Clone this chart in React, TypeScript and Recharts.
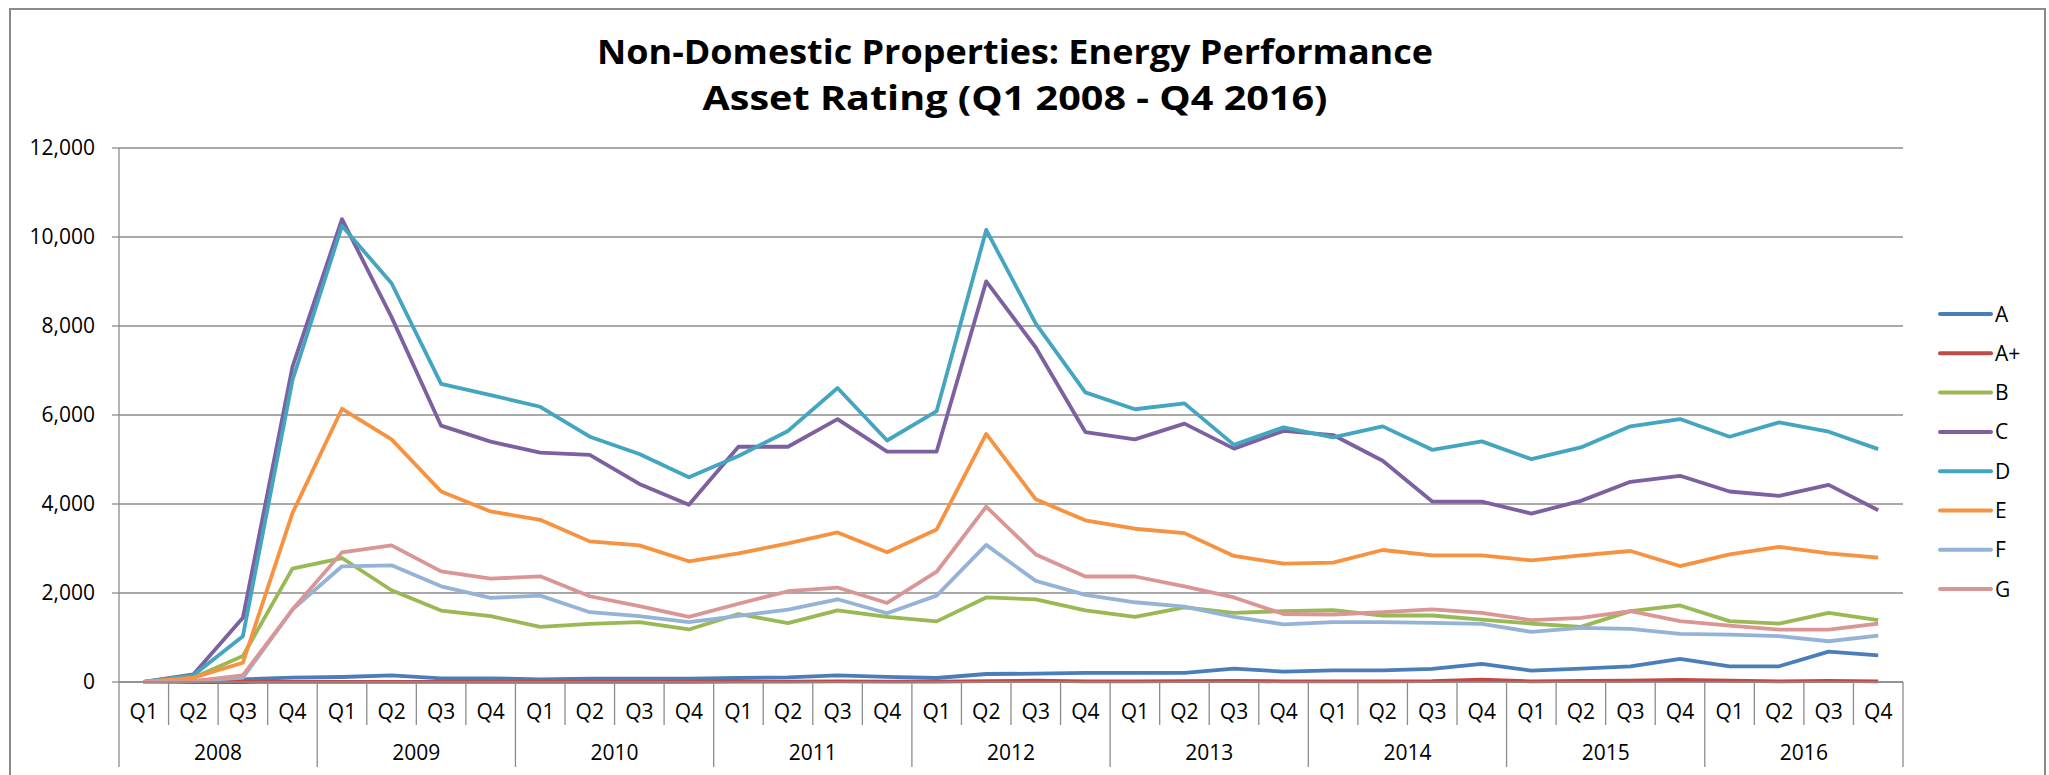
import React from 'react';
import { LineChart, Line, XAxis, YAxis, CartesianGrid } from 'recharts';

const years = ['2008', '2009', '2010', '2011', '2012', '2013', '2014', '2015', '2016'];
const quarters = ['Q1', 'Q2', 'Q3', 'Q4'];

const seriesA = [0, 22, 60, 97, 112, 150, 82, 82, 60, 75, 75, 75, 90, 105, 150, 113, 90, 180, 188, 203, 203, 203, 300, 233, 263, 263, 293, 405, 255, 300, 353, 518, 353, 353, 683, 600];
const seriesAPlus = [0, 0, 0, 5, 5, 5, 5, 5, 5, 5, 5, 5, 10, 10, 15, 10, 10, 20, 30, 15, 15, 20, 25, 15, 15, 15, 20, 55, 15, 25, 30, 50, 30, 15, 25, 15];
const seriesB = [0, 97, 583, 2547, 2786, 2062, 1606, 1479, 1240, 1307, 1345, 1180, 1528, 1322, 1611, 1462, 1363, 1900, 1859, 1611, 1462, 1677, 1553, 1594, 1615, 1494, 1494, 1404, 1314, 1239, 1592, 1720, 1367, 1314, 1555, 1389];
const seriesC = [0, 170, 1442, 7080, 10400, 8200, 5760, 5401, 5154, 5102, 4452, 3982, 5286, 5286, 5906, 5179, 5179, 9003, 7517, 5617, 5452, 5807, 5245, 5642, 5550, 4972, 4055, 4055, 3785, 4070, 4498, 4634, 4281, 4183, 4431, 3860];
const seriesD = [0, 150, 1030, 6780, 10250, 8960, 6700, 6447, 6185, 5513, 5124, 4602, 5080, 5642, 6608, 5427, 6088, 10160, 8053, 6509, 6129, 6261, 5328, 5724, 5497, 5745, 5219, 5407, 5009, 5272, 5745, 5910, 5512, 5835, 5625, 5234];
const seriesE = [0, 97, 433, 3795, 6140, 5453, 4280, 3832, 3645, 3160, 3070, 2712, 2891, 3114, 3362, 2916, 3428, 5576, 4105, 3634, 3444, 3345, 2833, 2660, 2681, 2966, 2846, 2846, 2734, 2846, 2944, 2606, 2869, 3034, 2891, 2794];
const seriesF = [0, 22, 97, 1628, 2600, 2622, 2151, 1890, 1942, 1569, 1479, 1345, 1487, 1627, 1859, 1545, 1941, 3081, 2272, 1958, 1792, 1693, 1462, 1297, 1344, 1344, 1329, 1307, 1126, 1217, 1194, 1081, 1066, 1029, 916, 1044];
const seriesG = [0, 22, 150, 1628, 2913, 3070, 2487, 2323, 2375, 1927, 1703, 1464, 1759, 2040, 2123, 1776, 2478, 3940, 2866, 2371, 2371, 2148, 1900, 1528, 1517, 1570, 1630, 1555, 1389, 1442, 1592, 1367, 1269, 1179, 1179, 1314];

const seriesNames = ['A', 'A+', 'B', 'C', 'D', 'E', 'F', 'G'];
const seriesValues = [seriesA, seriesAPlus, seriesB, seriesC, seriesD, seriesE, seriesF, seriesG];
const seriesColors = ['#4A7EBB', '#BE4B48', '#98B954', '#7D60A0', '#43A5BF', '#F69240', '#95B3D7', '#D99694'];
const yTicks = [0, 2000, 4000, 6000, 8000, 10000, 12000];
const titleLines = ['Non-Domestic Properties: Energy Performance', 'Asset Rating (Q1 2008 - Q4 2016)'];

const data = years.flatMap((y, yi) =>
  quarters.map((q, qi) => {
    const i = yi * 4 + qi;
    const row: Record<string, string | number> = { key: `${y} ${q}`, year: y, q };
    seriesNames.forEach((n, si) => {
      row[n] = seriesValues[si][i];
    });
    return row;
  })
);

const W = 2049;
const H = 775;
const PLOT_LEFT = 119;
const PLOT_RIGHT = 1903;
const PLOT_TOP = 148;
const PLOT_BOTTOM = 682;
const BAND = (PLOT_RIGHT - PLOT_LEFT) / data.length;
const FONT = '"Open Sans", Lato, sans-serif';
const GRID = '#8C8C8C';
const AXIS_FS = 21;

const titleLayout = [
  { y: 64, width: 836 },
  { y: 110, width: 625 },
];

const XTick = (props: any) => {
  const { x, y, payload } = props;
  const idx: number = payload.index;
  const row = data[idx];
  if (!row) return null;
  const qi = idx % 4;
  const left = x - BAND / 2;
  const right = x + BAND / 2;
  return (
    <g>
      <line x1={left} x2={left} y1={y} y2={qi === 0 ? y + 85 : y + 43} stroke={GRID} strokeWidth={1.3} />
      {idx === data.length - 1 && (
        <line x1={right} x2={right} y1={y} y2={y + 85} stroke={GRID} strokeWidth={1.3} />
      )}
      <text x={x} y={y + 37} textAnchor="middle" fontSize={AXIS_FS} fontFamily={FONT} fill="#000">
        {row.q as string}
      </text>
      {qi === 0 && (
        <text x={x + BAND * 1.5} y={y + 78} textAnchor="middle" fontSize={AXIS_FS} fontFamily={FONT} fill="#000">
          {row.year as string}
        </text>
      )}
    </g>
  );
};

export default function App() {
  return (
    <div
      style={{
        position: 'fixed',
        left: 0,
        top: 0,
        width: W,
        height: H,
        overflow: 'hidden',
        background: '#fff',
        fontFamily: FONT,
      }}
    >
      <div
        style={{
          position: 'absolute',
          left: 9,
          top: 8,
          width: 2037,
          height: 900,
          border: '2.5px solid #8A8A8A',
          boxSizing: 'border-box',
        }}
      />
      <svg style={{ position: 'absolute', left: 0, top: 0 }} width={W} height={140}>
        {titleLines.map((t, i) => (
          <text
            key={t}
            x={1015}
            y={titleLayout[i].y}
            textAnchor="middle"
            fontSize={34}
            fontWeight={700}
            fontFamily={FONT}
            fill="#000"
            textLength={titleLayout[i].width}
            lengthAdjust="spacingAndGlyphs"
          >
            {t}
          </text>
        ))}
      </svg>
      <div style={{ position: 'absolute', left: 0, top: 0 }}>
        <LineChart
          width={W}
          height={H}
          data={data}
          margin={{ top: PLOT_TOP, right: W - PLOT_RIGHT, bottom: 0, left: 0 }}
        >
          <CartesianGrid vertical={false} stroke={GRID} strokeWidth={1.3} />
          <XAxis
            dataKey="key"
            height={H - PLOT_BOTTOM}
            interval={0}
            tickLine={false}
            tickSize={0}
            tickMargin={0}
            padding={{ left: BAND / 2, right: BAND / 2 }}
            axisLine={{ stroke: GRID, strokeWidth: 1.3 }}
            tick={<XTick />}
          />
          <YAxis
            width={PLOT_LEFT}
            domain={[0, 12000]}
            ticks={yTicks}
            interval={0}
            tickSize={7}
            tickMargin={17}
            tickLine={{ stroke: GRID, strokeWidth: 1.3 }}
            axisLine={{ stroke: GRID, strokeWidth: 1.3 }}
            tick={{ fontSize: AXIS_FS, fill: '#000', fontFamily: FONT }}
            tickFormatter={(v: number) => v.toLocaleString('en-US')}
          />
          {seriesNames.map((n, si) => (
            <Line
              key={n}
              type="linear"
              dataKey={n}
              stroke={seriesColors[si]}
              strokeWidth={3.8}
              dot={false}
              activeDot={false}
              strokeLinejoin="round"
              isAnimationActive={false}
            />
          ))}
        </LineChart>
      </div>
      <svg style={{ position: 'absolute', left: 1930, top: 290 }} width={110} height={320}>
        {seriesNames.map((n, si) => {
          const cy = 24 + si * 39.3;
          return (
            <g key={n}>
              <line x1={10} x2={61} y1={cy} y2={cy} stroke={seriesColors[si]} strokeWidth={4} strokeLinecap="round" />
              <text x={65} y={cy + 7.5} fontSize={AXIS_FS} fontFamily={FONT} fill="#000">
                {n}
              </text>
            </g>
          );
        })}
      </svg>
    </div>
  );
}
